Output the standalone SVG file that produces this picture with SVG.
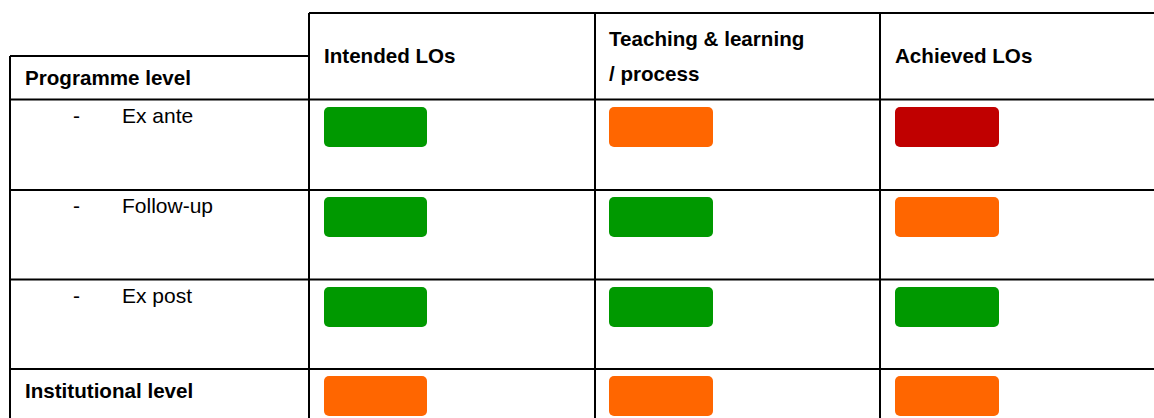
<svg xmlns="http://www.w3.org/2000/svg" width="1154" height="418" viewBox="0 0 1154 418">
<style>
.ln{stroke:#000;stroke-width:2;fill:none}
.b{font-family:"Liberation Sans",Arial,sans-serif;font-weight:bold;font-size:20.6px;fill:#000}
.r{font-family:"Liberation Sans",Arial,sans-serif;font-size:21px;fill:#000}
.g{fill:#009900}
.o{fill:#FF6600}
.red{fill:#C00000}
</style>
<rect width="1154" height="418" fill="#fff"/>
<g id="connectors">
<path class="ln" d="M10,56 H309 M309,13 H1155 M10,56 V419 M309,13 V419 M595,13 V419 M880,13 V419 M10,99.5 H1155 M10,190 H1155 M10,279.5 H1155 M10,369 H1155"/>
</g>
<g id="headers">
<text class="b" x="25" y="85">Programme level</text>
<text class="b" x="324" y="63">Intended LOs</text>
<text class="b" x="609" y="46">Teaching &amp; learning</text>
<text class="b" x="609" y="81">/ process</text>
<text class="b" x="895" y="63">Achieved LOs</text>
</g>
<g id="row-exante">
<text class="r" x="73" y="123">-</text>
<text class="r" x="122" y="123">Ex ante</text>
<rect class="g" x="324" y="107" width="103" height="40" rx="5"/>
<rect class="o" x="609" y="107" width="104" height="40" rx="5"/>
<rect class="red" x="895" y="107" width="104" height="40" rx="5"/>
</g>
<g id="row-followup">
<text class="r" x="73" y="213">-</text>
<text class="r" x="122" y="213">Follow-up</text>
<rect class="g" x="324" y="197" width="103" height="40" rx="5"/>
<rect class="g" x="609" y="197" width="104" height="40" rx="5"/>
<rect class="o" x="895" y="197" width="104" height="40" rx="5"/>
</g>
<g id="row-expost">
<text class="r" x="73" y="303">-</text>
<text class="r" x="122" y="303">Ex post</text>
<rect class="g" x="324" y="287" width="103" height="40" rx="5"/>
<rect class="g" x="609" y="287" width="104" height="40" rx="5"/>
<rect class="g" x="895" y="287" width="104" height="40" rx="5"/>
</g>
<g id="row-institutional">
<text class="b" x="25" y="398">Institutional level</text>
<rect class="o" x="324" y="376" width="103" height="40" rx="5"/>
<rect class="o" x="609" y="376" width="104" height="40" rx="5"/>
<rect class="o" x="895" y="376" width="104" height="40" rx="5"/>
</g>
</svg>
